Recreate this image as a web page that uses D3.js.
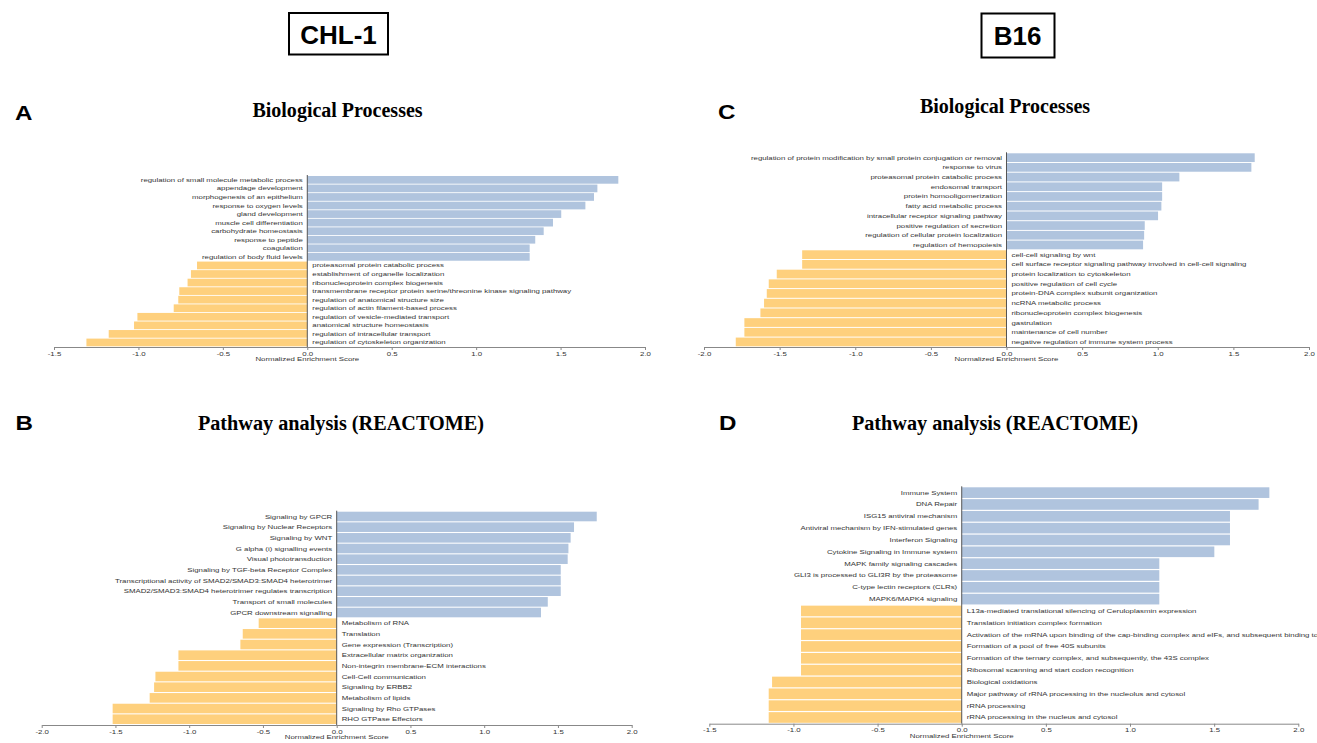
<!DOCTYPE html>
<html><head><meta charset="utf-8">
<script src="https://cdn.jsdelivr.net/npm/d3@7"></script>
<style>body{margin:0;background:#fff}svg{display:block}</style>
</head><body>
<svg id="c" width="1317" height="743"></svg>
<script>
// ---------- DATA ----------
const aTerms = [
  "regulation of small molecule metabolic process","appendage development","morphogenesis of an epithelium",
  "response to oxygen levels","gland development","muscle cell differentiation","carbohydrate homeostasis",
  "response to peptide","coagulation","regulation of body fluid levels",
  "proteasomal protein catabolic process","establishment of organelle localization","ribonucleoprotein complex biogenesis",
  "transmembrane receptor protein serine/threonine kinase signaling pathway","regulation of anatomical structure size",
  "regulation of actin filament-based process","regulation of vesicle-mediated transport","anatomical structure homeostasis",
  "regulation of intracellular transport","regulation of cytoskeleton organization"];
const aNES = [1.842,1.718,1.698,1.647,1.504,1.455,1.400,1.350,1.317,1.317,
  -0.653,-0.689,-0.709,-0.758,-0.764,-0.791,-1.006,-1.026,-1.176,-1.308];
const aTicks = [-1.5,-1.0,-0.5,0.0,0.5,1.0,1.5,2.0];

const cTerms = [
  "regulation of protein modification by small protein conjugation or removal","response to virus",
  "proteasomal protein catabolic process","endosomal transport","protein homooligomerization","fatty acid metabolic process",
  "intracellular receptor signaling pathway","positive regulation of secretion","regulation of cellular protein localization",
  "regulation of hemopoiesis",
  "cell-cell signaling by wnt","cell surface receptor signaling pathway involved in cell-cell signaling",
  "protein localization to cytoskeleton","positive regulation of cell cycle","protein-DNA complex subunit organization",
  "ncRNA metabolic process","ribonucleoprotein complex biogenesis","gastrulation","maintenance of cell number",
  "negative regulation of immune system process"];
const cNES = [1.641,1.619,1.143,1.029,1.029,1.024,1.002,0.914,0.910,0.903,
  -1.351,-1.351,-1.519,-1.572,-1.585,-1.603,-1.627,-1.733,-1.733,-1.790];
const cTicks = [-2.0,-1.5,-1.0,-0.5,0.0,0.5,1.0,1.5,2.0];

const bTerms = [
  "Signaling by GPCR","Signaling by Nuclear Receptors","Signaling by WNT","G alpha (i) signalling events",
  "Visual phototransduction","Signaling by TGF-beta Receptor Complex",
  "Transcriptional activity of SMAD2/SMAD3:SMAD4 heterotrimer","SMAD2/SMAD3:SMAD4 heterotrimer regulates transcription",
  "Transport of small molecules","GPCR downstream signalling",
  "Metabolism of RNA","Translation","Gene expression (Transcription)","Extracellular matrix organization",
  "Non-integrin membrane-ECM interactions","Cell-Cell communication","Signaling by ERBB2","Metabolism of lipids",
  "Signaling by Rho GTPases","RHO GTPase Effectors"];
const bNES = [1.763,1.609,1.586,1.571,1.566,1.519,1.519,1.519,1.431,1.385,
  -0.529,-0.637,-0.653,-1.073,-1.073,-1.229,-1.238,-1.268,-1.519,-1.519];
const bTicks = [-2.0,-1.5,-1.0,-0.5,0.0,0.5,1.0,1.5,2.0];

const dTerms = [
  "Immune System","DNA Repair","ISG15 antiviral mechanism","Antiviral mechanism by IFN-stimulated genes",
  "Interferon Signaling","Cytokine Signaling in Immune system","MAPK family signaling cascades",
  "GLI3 is processed to GLI3R by the proteasome","C-type lectin receptors (CLRs)","MAPK6/MAPK4 signaling",
  "L13a-mediated translational silencing of Ceruloplasmin expression","Translation initiation complex formation",
  "Activation of the mRNA upon binding of the cap-binding complex and eIFs, and subsequent binding to 43S",
  "Formation of a pool of free 40S subunits","Formation of the ternary complex, and subsequently, the 43S complex",
  "Ribosomal scanning and start codon recognition","Biological oxidations",
  "Major pathway of rRNA processing in the nucleolus and cytosol","rRNA processing","rRNA processing in the nucleus and cytosol"];
const dNES = [1.828,1.764,1.594,1.594,1.594,1.501,1.174,1.174,1.174,1.174,
  -0.955,-0.955,-0.955,-0.955,-0.955,-0.955,-1.127,-1.147,-1.147,-1.147];
const dTicks = [-1.5,-1.0,-0.5,0.0,0.5,1.0,1.5,2.0];

const cellLines = ["CHL-1","B16"];
const panelLetters = ["A","B","C","D"];
const titleBP = "Biological Processes";
const titlePW = "Pathway analysis (REACTOME)";
const axisTitle = "Normalized Enrichment Score";

// ---------- STYLE ----------
const BLUE = "#b0c4de", ORANGE = "#fed07d";
const SX = 1.35, FS = 5.8;
const SANS = "Liberation Sans, Arial, Helvetica, sans-serif";
const SERIF = "Liberation Serif, Times New Roman, serif";

const svg = d3.select("#c");

function stext(x, y, str, o) {
  return svg.append("text")
    .attr("transform", `translate(${x},${y}) scale(${o.sx||1},1)`)
    .attr("text-anchor", o.anchor || "start")
    .attr("font-family", o.family || SANS)
    .attr("font-size", o.size)
    .attr("font-weight", o.weight || "normal")
    .attr("fill", o.fill || "#000")
    .text(str);
}

function panel(terms, nes, ticks, o) {
  const idx = d3.range(terms.length);
  const x = d3.scaleLinear().domain([ticks[0], ticks[ticks.length-1]]).range(o.xr);
  const y = d3.scaleBand().domain(idx).range(o.yr).paddingInner(0.1).paddingOuter(0);
  const g = svg.append("g");
  g.selectAll("rect").data(idx).join("rect")
    .attr("x", i => Math.min(x(0), x(nes[i])))
    .attr("width", i => Math.abs(x(nes[i]) - x(0)))
    .attr("y", i => y(i))
    .attr("height", y.bandwidth())
    .attr("fill", i => nes[i] >= 0 ? BLUE : ORANGE);
  g.selectAll("text.lab").data(idx).join("text")
    .attr("class", "lab")
    .attr("transform", i => `translate(${nes[i] >= 0 ? x(0) - 4.5 : x(0) + 5},${y(i) + y.bandwidth()/2 + 2}) scale(${SX},1)`)
    .attr("text-anchor", i => nes[i] >= 0 ? "end" : "start")
    .attr("font-family", SANS).attr("font-size", FS).attr("fill", "#333")
    .text(i => terms[i]);
  g.append("line")
    .attr("x1", x(0)).attr("x2", x(0))
    .attr("y1", o.yr[0] - 1).attr("y2", o.axisY)
    .attr("stroke", "#555").attr("stroke-width", 1);
  const ax = g.append("g").attr("transform", `translate(0,${o.axisY})`)
    .call(d3.axisBottom(x).tickValues(ticks).tickFormat(d => d.toFixed(1)).tickSize(3).tickSizeOuter(0));
  ax.select(".domain").attr("stroke", "#888");
  ax.selectAll(".tick line").attr("stroke", "#888");
  ax.selectAll(".tick text")
    .attr("y", 4.5).attr("dy", "0.71em")
    .attr("transform", `scale(${SX},1)`)
    .attr("font-family", SANS).attr("font-size", FS).attr("fill", "#333");
  g.append("text")
    .attr("transform", `translate(${x(0)},${o.axisY + 14}) scale(${SX},1)`)
    .attr("text-anchor", "middle")
    .attr("font-family", SANS).attr("font-size", FS).attr("fill", "#333")
    .text(axisTitle);
}

// ---------- HEADERS ----------
svg.append("rect").attr("x", 289).attr("y", 13).attr("width", 99).attr("height", 41.5)
  .attr("fill", "none").attr("stroke", "#000").attr("stroke-width", 2);
stext(338.5, 44, cellLines[0], {size: 26, weight: "bold", anchor: "middle"});
svg.append("rect").attr("x", 981.5).attr("y", 13.5).attr("width", 73).attr("height", 44)
  .attr("fill", "none").attr("stroke", "#000").attr("stroke-width", 2);
stext(1017.5, 45, cellLines[1], {size: 26, weight: "bold", anchor: "middle"});

// panel letters
stext(15, 119.5, panelLetters[0], {size: 21, weight: "bold", sx: 1.15});
stext(15.5, 430, panelLetters[1], {size: 21, weight: "bold", sx: 1.15});
stext(718, 119, panelLetters[2], {size: 21, weight: "bold", sx: 1.15});
stext(719, 430, panelLetters[3], {size: 21, weight: "bold", sx: 1.15});

// titles
stext(337.5, 116.5, titleBP, {size: 22, weight: "bold", family: SERIF, anchor: "middle", sx: 0.91});
stext(1005, 112.5, titleBP, {size: 22, weight: "bold", family: SERIF, anchor: "middle", sx: 0.91});
stext(341, 430, titlePW, {size: 22, weight: "bold", family: SERIF, anchor: "middle", sx: 0.92});
stext(995, 430, titlePW, {size: 22, weight: "bold", family: SERIF, anchor: "middle", sx: 0.92});

// ---------- PANELS ----------
panel(aTerms, aNES, aTicks, {xr: [54, 645], yr: [176, 346.3], axisY: 347});
panel(cTerms, cNES, cTicks, {xr: [704, 1309], yr: [153.3, 346.3], axisY: 347});
panel(bTerms, bNES, bTicks, {xr: [41.7, 631.7], yr: [511.7, 724], axisY: 725});
panel(dTerms, dNES, dTicks, {xr: [709.3, 1298.3], yr: [487.3, 722.8], axisY: 723.7});
</script>
</body></html>
